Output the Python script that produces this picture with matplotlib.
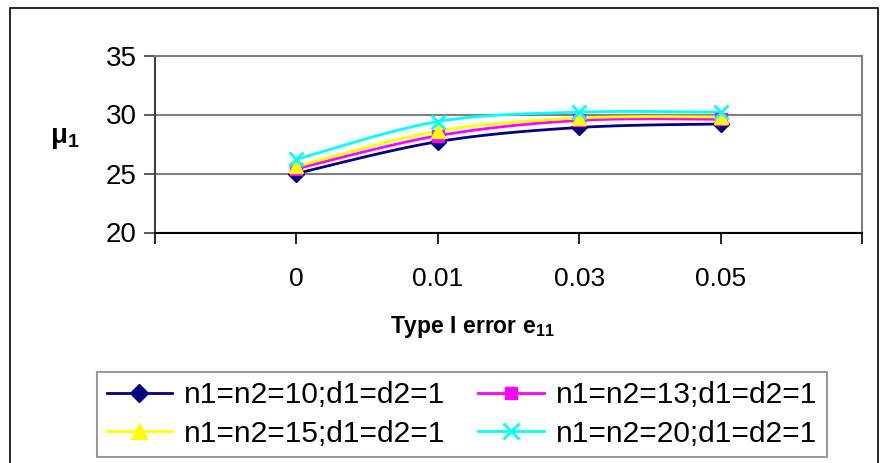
import numpy as np
import matplotlib
matplotlib.use("Agg")
import matplotlib.pyplot as plt
from matplotlib.patches import Rectangle
from matplotlib.lines import Line2D

plt.rcParams['font.family'] = ['Liberation Sans', 'DejaVu Sans']
plt.rcParams['mathtext.fontset'] = 'custom'
plt.rcParams['mathtext.rm'] = 'Liberation Sans:bold'
plt.rcParams['mathtext.default'] = 'rm'

# ---- data ----
categories = ["0", "0.01", "0.03", "0.05"]
series_labels = ["n1=n2=10;d1=d2=1", "n1=n2=13;d1=d2=1",
                 "n1=n2=15;d1=d2=1", "n1=n2=20;d1=d2=1"]
s_10 = [25.0, 27.7, 28.9, 29.2]
s_13 = [25.4, 28.2, 29.5, 29.6]
s_15 = [25.6, 28.6, 29.7, 29.8]
s_20 = [26.2, 29.4, 30.2, 30.2]
y_ticks = [20, 25, 30, 35]

W, H = 884, 463
fig = plt.figure(figsize=(W / 100, H / 100), dpi=100)

def fx(px):
    return px / W

def fy(py):
    return 1 - py / H

# outer chart border
fig.patches.append(Rectangle((fx(10), fy(480)), fx(878) - fx(10), fy(8) - fy(480),
                             transform=fig.transFigure, fill=False,
                             edgecolor='black', linewidth=1.2))

ax = fig.add_axes([fx(155), fy(232.5), fx(862) - fx(155), fy(55.5) - fy(232.5)])

def smooth(xs, ys, n=30):
    """Excel-style Bezier smoothing through the data points."""
    P = np.column_stack([xs, ys]).astype(float)
    Pe = np.vstack([P[0], P, P[-1]])
    out = []
    for i in range(len(P) - 1):
        p0, p1 = Pe[i + 1], Pe[i + 2]
        c1 = p0 + (Pe[i + 2] - Pe[i]) / 6
        c2 = p1 - (Pe[i + 3] - Pe[i + 1]) / 6
        t = np.linspace(0, 1, n)[:, None]
        seg = ((1 - t) ** 3) * p0 + 3 * ((1 - t) ** 2) * t * c1 + 3 * (1 - t) * t ** 2 * c2 + t ** 3 * p1
        out.append(seg if i == 0 else seg[1:])
    seg = np.vstack(out)
    return seg[:, 0], seg[:, 1]

xpos = np.arange(1, len(categories) + 1)
styles = [
    (s_10, '#000080', 'D', 8, 1.0),
    (s_13, '#FF00FF', 's', 8, 1.0),
    (s_15, '#FFFF00', '^', 10, 1.0),
    (s_20, '#00FFFF', 'x', 10, 2.0),
]
handles = []
for (vals, col, mk, ms, mew), lab in zip(styles, series_labels):
    sx, sy = smooth(xpos, vals)
    ax.plot(sx, sy, color=col, lw=2.0, zorder=3)
    ax.plot(xpos, vals, linestyle='none', marker=mk, ms=ms, color=col,
            markeredgecolor=col, mew=mew, zorder=4)
    handles.append(Line2D([], [], color=col, lw=2.0, marker=mk, ms=ms + 1,
                          markeredgecolor=col, mew=mew, label=lab))

ax.set_xlim(0, len(categories) + 1)
ax.set_ylim(20, 35)
ax.set_yticks(y_ticks)
ax.set_yticklabels([str(v) for v in y_ticks])
ax.set_xticks(np.arange(0, len(categories) + 2))
ax.set_xticklabels([""] + categories + [""])
ax.yaxis.grid(True, color='#808080', lw=1.5)
ax.set_axisbelow(True)
ax.tick_params(axis='y', length=8, width=1.2, color='#404040', labelsize=20, pad=5)
ax.tick_params(axis='x', length=8, width=1.2, color='black', labelsize=19, pad=17)
for s in ['top', 'right']:
    ax.spines[s].set_color('#808080')
    ax.spines[s].set_linewidth(1.5)
ax.spines['left'].set_color('#404040')
ax.spines['left'].set_linewidth(1.5)
ax.spines['bottom'].set_color('black')
ax.spines['bottom'].set_linewidth(1.5)

fig.text(fx(65), fy(138), r'μ$_1$', fontsize=20, fontweight='bold', ha='center', va='center')
fig.text(fx(472), fy(327), r'Type I error e$_{11}$', fontsize=16.5, fontweight='bold',
         ha='center', va='center')

# row-wise order as in the reference: (10, 13) on row 1, (15, 20) on row 2
order = [0, 2, 1, 3]
leg = fig.legend(handles=[handles[i] for i in order], ncol=2, loc='center',
                 bbox_to_anchor=(fx((92 + 832) / 2), fy((372 + 457) / 2)),
                 fontsize=21.5, frameon=True, fancybox=False, edgecolor='#808080',
                 handlelength=2.2, handletextpad=0.4, columnspacing=1.1,
                 labelspacing=0.35, borderpad=0.32, borderaxespad=0)
leg.get_frame().set_linewidth(1.5)

fig.savefig('out.png', dpi=100)
